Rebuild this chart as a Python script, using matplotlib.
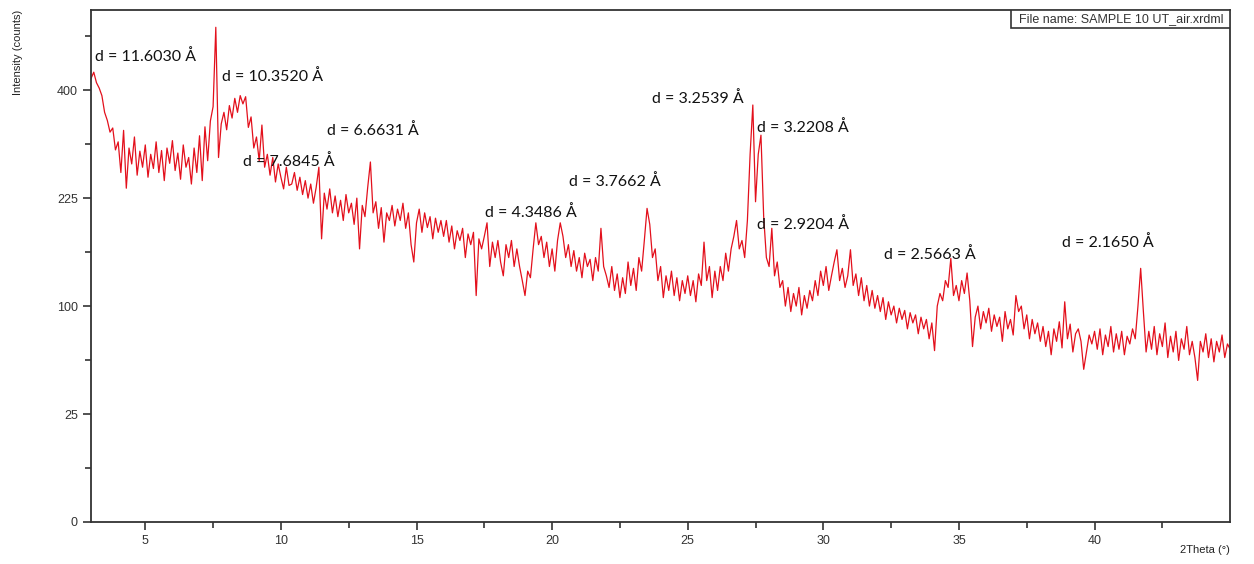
import matplotlib

matplotlib.use("Agg")
import matplotlib.pyplot as plt
import numpy as np
from matplotlib.patches import Rectangle

RED = "#E3101C"
AXIS = "#333333"

# 2Theta grid, 3.0 .. 45.0 deg in 0.1 deg steps
two_theta = np.round(np.arange(3.0, 45.05, 0.1), 2)

# intensity (counts), one row per degree
intensity = [
    422, 434, 414, 404, 390, 360, 346, 326, 333, 297,  # 3
    310, 262, 329, 239, 300, 275, 318, 258, 295, 270,  # 4
    305, 255, 290, 268, 310, 262, 296, 250, 300, 276,  # 5
    312, 265, 292, 252, 305, 270, 285, 245, 300, 262,  # 6
    320, 250, 335, 280, 345, 370, 525, 285, 340, 360,  # 7
    330, 372, 350, 385, 360, 390, 375, 388, 334, 352,  # 8
    300, 318, 280, 338, 270, 290, 258, 285, 248, 275,  # 9
    255, 238, 270, 243, 245, 262, 236, 255, 230, 250,  # 10
    225, 245, 218, 240, 270, 172, 232, 210, 238, 205,  # 11
    228, 200, 222, 195, 230, 205, 218, 190, 225, 160,  # 12
    215, 200, 240, 278, 205, 220, 185, 212, 168, 205,  # 13
    195, 215, 188, 210, 195, 218, 185, 205, 165, 145,  # 14
    192, 210, 180, 205, 186, 200, 172, 198, 180, 195,  # 15
    175, 195, 168, 188, 160, 182, 170, 185, 150, 178,  # 16
    165, 180, 110, 172, 160, 175, 192, 140, 168, 150,  # 17
    170, 145, 130, 165, 150, 170, 140, 160, 140, 125,  # 18
    110, 135, 128, 160, 192, 165, 175, 150, 168, 140,  # 19
    160, 135, 170, 192, 175, 150, 165, 140, 158, 135,  # 20
    150, 128, 155, 140, 148, 125, 150, 135, 185, 140,  # 21
    130, 118, 140, 115, 132, 108, 128, 112, 145, 120,  # 22
    138, 115, 150, 135, 170, 211, 190, 150, 160, 125,  # 23
    140, 108, 130, 115, 135, 110, 128, 105, 125, 112,  # 24
    130, 110, 125, 104, 132, 120, 168, 125, 140, 108,  # 25
    135, 115, 140, 125, 155, 135, 160, 175, 195, 160,  # 26
    170, 150, 195, 290, 373, 220, 290, 321, 200, 150,  # 27
    140, 185, 130, 145, 118, 125, 100, 118, 95, 112,   # 28
    100, 118, 92, 110, 98, 115, 105, 125, 110, 135,    # 29
    120, 140, 115, 130, 145, 159, 125, 138, 118, 130,  # 30
    159, 120, 132, 110, 128, 105, 120, 100, 115, 98,   # 31
    110, 95, 108, 88, 104, 92, 100, 85, 98, 88,        # 32
    96, 80, 94, 85, 92, 76, 90, 80, 88, 72,            # 33
    85, 63, 100, 112, 105, 125, 118, 149, 110, 120,    # 34
    105, 125, 112, 133, 105, 66, 90, 100, 80, 95,      # 35
    85, 98, 78, 92, 82, 90, 70, 95, 80, 88,            # 36
    75, 110, 95, 100, 80, 92, 72, 88, 76, 85,          # 37
    70, 82, 66, 78, 60, 80, 70, 86, 65, 104,           # 38
    72, 84, 62, 76, 80, 70, 50, 62, 75, 68,            # 39
    78, 64, 80, 60, 75, 66, 82, 62, 76, 64,            # 40
    78, 60, 74, 68, 80, 72, 100, 138, 95, 62,          # 41
    78, 64, 82, 60, 76, 66, 85, 58, 74, 62,            # 42
    78, 56, 72, 64, 82, 60, 70, 58, 43, 70,            # 43
    62, 76, 58, 72, 55, 70, 62, 75, 58, 68,            # 44
    64,                                                # 45
]

# d-spacing labels and where their text sits (2Theta, counts)
d_labels = ["11.6030", "10.3520", "7.6845", "6.6631", "4.3486", "3.7662",
            "3.2539", "3.2208", "2.9204", "2.5663", "2.1650"]
label_x = [3.15, 7.82, 8.60, 11.69, 17.54, 20.64, 23.69, 27.56, 27.56, 32.23, 38.79]
label_y = [465, 426, 279, 329, 206, 248, 385, 334, 190, 154, 168]

y_major = [0, 25, 100, 225, 400]
y_minor = [6.25, 56.25, 156.25, 306.25, 506.25]
x_major = [5, 10, 15, 20, 25, 30, 35, 40]
x_minor = [7.5, 12.5, 17.5, 22.5, 27.5, 32.5, 37.5, 42.5]


def _fwd(v):
    return np.sqrt(np.clip(v, 0, None))


def _inv(v):
    return np.square(v)


fig = plt.figure(figsize=(12.54, 5.64), dpi=100)
ax = fig.add_axes([0.0726, 0.0745, 0.9084, 0.9075])

ax.plot(two_theta, intensity, color=RED, linewidth=0.9)

ax.set_yscale("function", functions=(_fwd, _inv))
ax.set_yticks(y_major)
ax.set_yticks(y_minor, minor=True)
ax.set_yticklabels([str(v) for v in y_major])
ax.set_xticks(x_major)
ax.set_xticks(x_minor, minor=True)
ax.set_xlim(3.0, 45.0)
ax.set_ylim(0, 562)

for spine in ax.spines.values():
    spine.set_color(AXIS)
    spine.set_linewidth(1.3)
ax.tick_params(which="both", direction="out", colors=AXIS, labelsize=9,
               labelfontfamily="Liberation Sans")
ax.tick_params(which="major", length=6, width=1.2)
ax.tick_params(which="minor", length=4, width=1.2)

for txt, x, y in zip(d_labels, label_x, label_y):
    ax.text(x, y, f"d = {txt} \u00c5", fontsize=11.5, family="Lato",
            ha="left", va="center", color="#111111")

# file name tag in the top-right corner
ax.add_patch(Rectangle((0.8077, 0.965), 0.1923, 0.035, transform=ax.transAxes,
                       facecolor="white", edgecolor=AXIS, linewidth=1.2, zorder=5))
ax.text(0.904, 0.9825, "File name: SAMPLE 10 UT_air.xrdml", transform=ax.transAxes,
        ha="center", va="center", fontsize=9, family="Liberation Sans",
        color="#333333", zorder=6)

fig.text(0.0145, 0.982, "Intensity (counts)", rotation=90, ha="center", va="top",
         fontsize=8, family="Liberation Sans", color="#222222")
fig.text(0.981, 0.025, "2Theta (\u00b0)", ha="right", va="center",
         fontsize=8, family="Liberation Sans", color="#222222")

fig.savefig("out.png", dpi=100, facecolor="white")
plt.close(fig)
